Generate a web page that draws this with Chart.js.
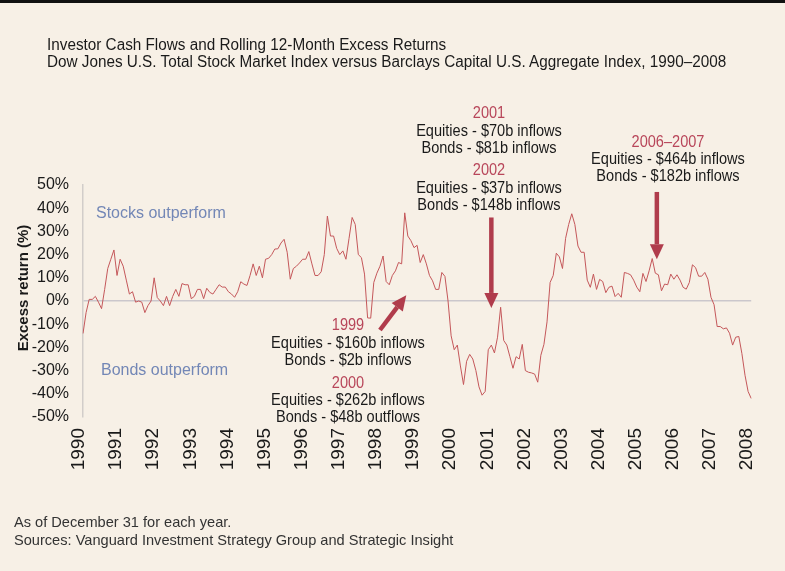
<!DOCTYPE html>
<html>
<head>
<meta charset="utf-8">
<script src="https://cdn.jsdelivr.net/npm/chart.js@4.4.1/dist/chart.umd.min.js"></script>
<style>
  html, body { margin: 0; padding: 0; }
  body { width: 785px; height: 571px; background: #f7f0e6; position: relative; overflow: hidden;
         font-family: "Liberation Sans", Arial, sans-serif; }
  #topbar { position: absolute; left: 0; top: 0; width: 785px; height: 3px; background: #111; }
  #wrap { position: absolute; left: 0; top: 0; width: 785px; height: 571px; }
  .t { position: absolute; white-space: nowrap; color: #1a1a1a; font-size: 16px; line-height: 18px; }
  .title { transform: scaleX(0.955); transform-origin: left center; }
  .c { text-align: center; width: 240px; transform: scaleX(0.91); transform-origin: center center; }
  .red { color: #b8465a; }
  .blue { color: #7387b6; }
  .foot { font-size: 14.6px; color: #333; }
</style>
</head>
<body>
<div id="topbar"></div>
<div id="wrap"><canvas id="chart" width="785" height="571"></canvas></div>

<div class="t title" style="left:47px;top:36px;">Investor Cash Flows and Rolling 12-Month Excess Returns</div>
<div class="t title" style="left:47px;top:53px;">Dow Jones U.S. Total Stock Market Index versus Barclays Capital U.S. Aggregate Index, 1990–2008</div>

<div class="t" style="left:8px;top:279px;width:30px;height:18px;">
  <div style="position:absolute;left:15px;top:9px;transform:translate(-50%,-50%) rotate(-90deg);font-weight:bold;font-size:15px;">Excess return (%)</div>
</div>

<div class="t blue" style="left:96px;top:204px;">Stocks outperform</div>
<div class="t blue" style="left:101px;top:361px;">Bonds outperform</div>

<div class="t c red" style="left:369px;top:104px;">2001</div>
<div class="t c" style="left:369px;top:122px;">Equities - $70b inflows</div>
<div class="t c" style="left:369px;top:139px;">Bonds - $81b inflows</div>
<div class="t c red" style="left:369px;top:161px;">2002</div>
<div class="t c" style="left:369px;top:179px;">Equities - $37b inflows</div>
<div class="t c" style="left:369px;top:196px;">Bonds - $148b inflows</div>

<div class="t c red" style="left:548px;top:133px;">2006–2007</div>
<div class="t c" style="left:548px;top:150px;">Equities - $464b inflows</div>
<div class="t c" style="left:548px;top:167px;">Bonds - $182b inflows</div>

<div class="t c red" style="left:228px;top:316px;">1999</div>
<div class="t c" style="left:228px;top:334px;">Equities - $160b inflows</div>
<div class="t c" style="left:228px;top:351px;">Bonds - $2b inflows</div>
<div class="t c red" style="left:228px;top:374px;">2000</div>
<div class="t c" style="left:228px;top:391px;">Equities - $262b inflows</div>
<div class="t c" style="left:228px;top:408px;">Bonds - $48b outflows</div>

<div class="t foot" style="left:14px;top:513px;">As of December 31 for each year.</div>
<div class="t foot" style="left:14px;top:531px;">Sources: Vanguard Investment Strategy Group and Strategic Insight</div>

<script>
// year tick labels, one per 12 monthly points
const years = ['1990', '1991', '1992', '1993', '1994', '1995', '1996', '1997', '1998', '1999',
               '2000', '2001', '2002', '2003', '2004', '2005', '2006', '2007', '2008'];

// rolling 12-month excess return (%), monthly
const excessReturn = [
  -14, -5, 0.7, 0.7, 2, -0.5, -3.3, 5, 14, 18, 22, 11,
  18, 15, 9, 3, 4, -0.5, 0, -0.5, -5, -2, 0, 10,
  1.5, 0, -2, 2, -2, 2, 5, 2, 7.5, 7, 7, 1,
  2, 5, 5, 1, 5.5, 3.7, 3, 5, 7, 6, 6, 4,
  3, 1.6, 4, 8.3, 7.3, 6.7, 11, 16, 11, 15, 10, 18,
  18.4, 20, 22.4, 22.5, 25, 26.6, 21, 9.4, 14, 15, 16.4, 18,
  18, 21.3, 16, 11, 11, 12.6, 20, 36.6, 28, 28, 22.7, 20,
  21.6, 18, 27, 36, 33, 20, 18.7, 11.6, -7.3, -7.4, 8, 12,
  15, 19.4, 8.4, 7, 11, 13, 16.6, 16, 38, 28, 26, 23,
  24, 16.6, 20, 16, 11, 8.7, 5, 5, 12.3, 10.6, 0, -15,
  -21, -19, -28, -36, -26, -23, -25, -30, -37, -40.6, -39, -21,
  -19, -22.4, -15.6, -2.7, -17, -19, -24, -29, -24, -25, -18.7, -30,
  -30.7, -31, -31.5, -35, -23.4, -18.7, -9, 8, 11, 20.6, 19, 14,
  27, 33, 37.6, 33, 23.7, 21, 21, 9, 5.9, 11.6, 5, 9.3,
  8.4, 3.6, 5.9, 6.4, 1.9, 3.3, 1.6, 12.3, 11.9, 11.3, 9, 6,
  4, 11.9, 8.4, 13, 18.3, 12, 11.3, 4.4, 7.3, 7, 11.6, 9.4,
  11.3, 9, 5.9, 5.1, 8, 15.6, 14.4, 10.7, 10.7, 12.3, 9.4, 1.6,
  -1.6, -11, -11, -12, -11.6, -13.9, -19, -15.6, -15.3, -22.7, -32, -39,
  -42
];

const monthLabels = excessReturn.map((v, i) => years[Math.floor(i / 12)] + '-' + (i % 12 + 1));

// arrows: [fromIndex, fromValue, toIndex, toValue]
const arrows = [
  [96, -12.5, 104.5, 2.5],
  [132, 36, 132, -3],
  [185.5, 47, 185.5, 18]
];

const arrowPlugin = {
  id: 'arrows',
  afterDatasetsDraw(chart) {
    const { ctx, scales: { x, y } } = chart;
    ctx.save();
    ctx.strokeStyle = '#b03c4c';
    ctx.fillStyle = '#b03c4c';
    arrows.forEach(a => {
      const x1 = x.getPixelForValue(a[0]), y1 = y.getPixelForValue(a[1]);
      const x2 = x.getPixelForValue(a[2]), y2 = y.getPixelForValue(a[3]);
      const ang = Math.atan2(y2 - y1, x2 - x1);
      const head = 15, hw = 7;
      const bx = x2 - head * Math.cos(ang), by = y2 - head * Math.sin(ang);
      ctx.lineWidth = 4.5;
      ctx.beginPath();
      ctx.moveTo(x1, y1);
      ctx.lineTo(bx, by);
      ctx.stroke();
      ctx.beginPath();
      ctx.moveTo(x2, y2);
      ctx.lineTo(bx + hw * Math.sin(ang), by - hw * Math.cos(ang));
      ctx.lineTo(bx - hw * Math.sin(ang), by + hw * Math.cos(ang));
      ctx.closePath();
      ctx.fill();
    });
    ctx.restore();
  }
};

new Chart(document.getElementById('chart'), {
  type: 'line',
  data: {
    labels: monthLabels,
    datasets: [{
      data: excessReturn,
      borderColor: '#c4575a',
      borderWidth: 1,
      pointRadius: 0,
      tension: 0,
      fill: false
    }]
  },
  options: {
    responsive: false,
    animation: false,
    layout: { padding: { left: 0, top: 185, right: 29, bottom: 0 } },
    plugins: { legend: { display: false }, tooltip: { enabled: false } },
    scales: {
      x: {
        offset: false,
        grid: { display: false, drawTicks: false },
        border: { display: false },
        afterFit(scale) { scale.height = 154; },
        ticks: {
          autoSkip: false,
          minRotation: 90,
          maxRotation: 90,
          padding: 11,
          labelOffset: -4,
          color: '#1a1a1a',
          font: { family: '"Liberation Sans", Arial, sans-serif', size: 19 },
          callback(val, index) { return index % 12 === 0 ? years[index / 12] : null; }
        }
      },
      y: {
        min: -50,
        max: 50,
        afterFit(scale) { scale.width = 83; },
        grid: {
          drawTicks: false,
          lineWidth: 1.5,
          color: c => (c.tick && c.tick.value === 0 ? '#cbc7cc' : 'rgba(0,0,0,0)')
        },
        border: { display: true, color: '#d2cdca', width: 1.5 },
        ticks: {
          autoSkip: false,
          stepSize: 10,
          padding: 14,
          color: '#1a1a1a',
          font: { family: '"Liberation Sans", Arial, sans-serif', size: 16 },
          callback: v => v + '%'
        }
      }
    }
  },
  plugins: [arrowPlugin]
});
</script>
</body>
</html>
